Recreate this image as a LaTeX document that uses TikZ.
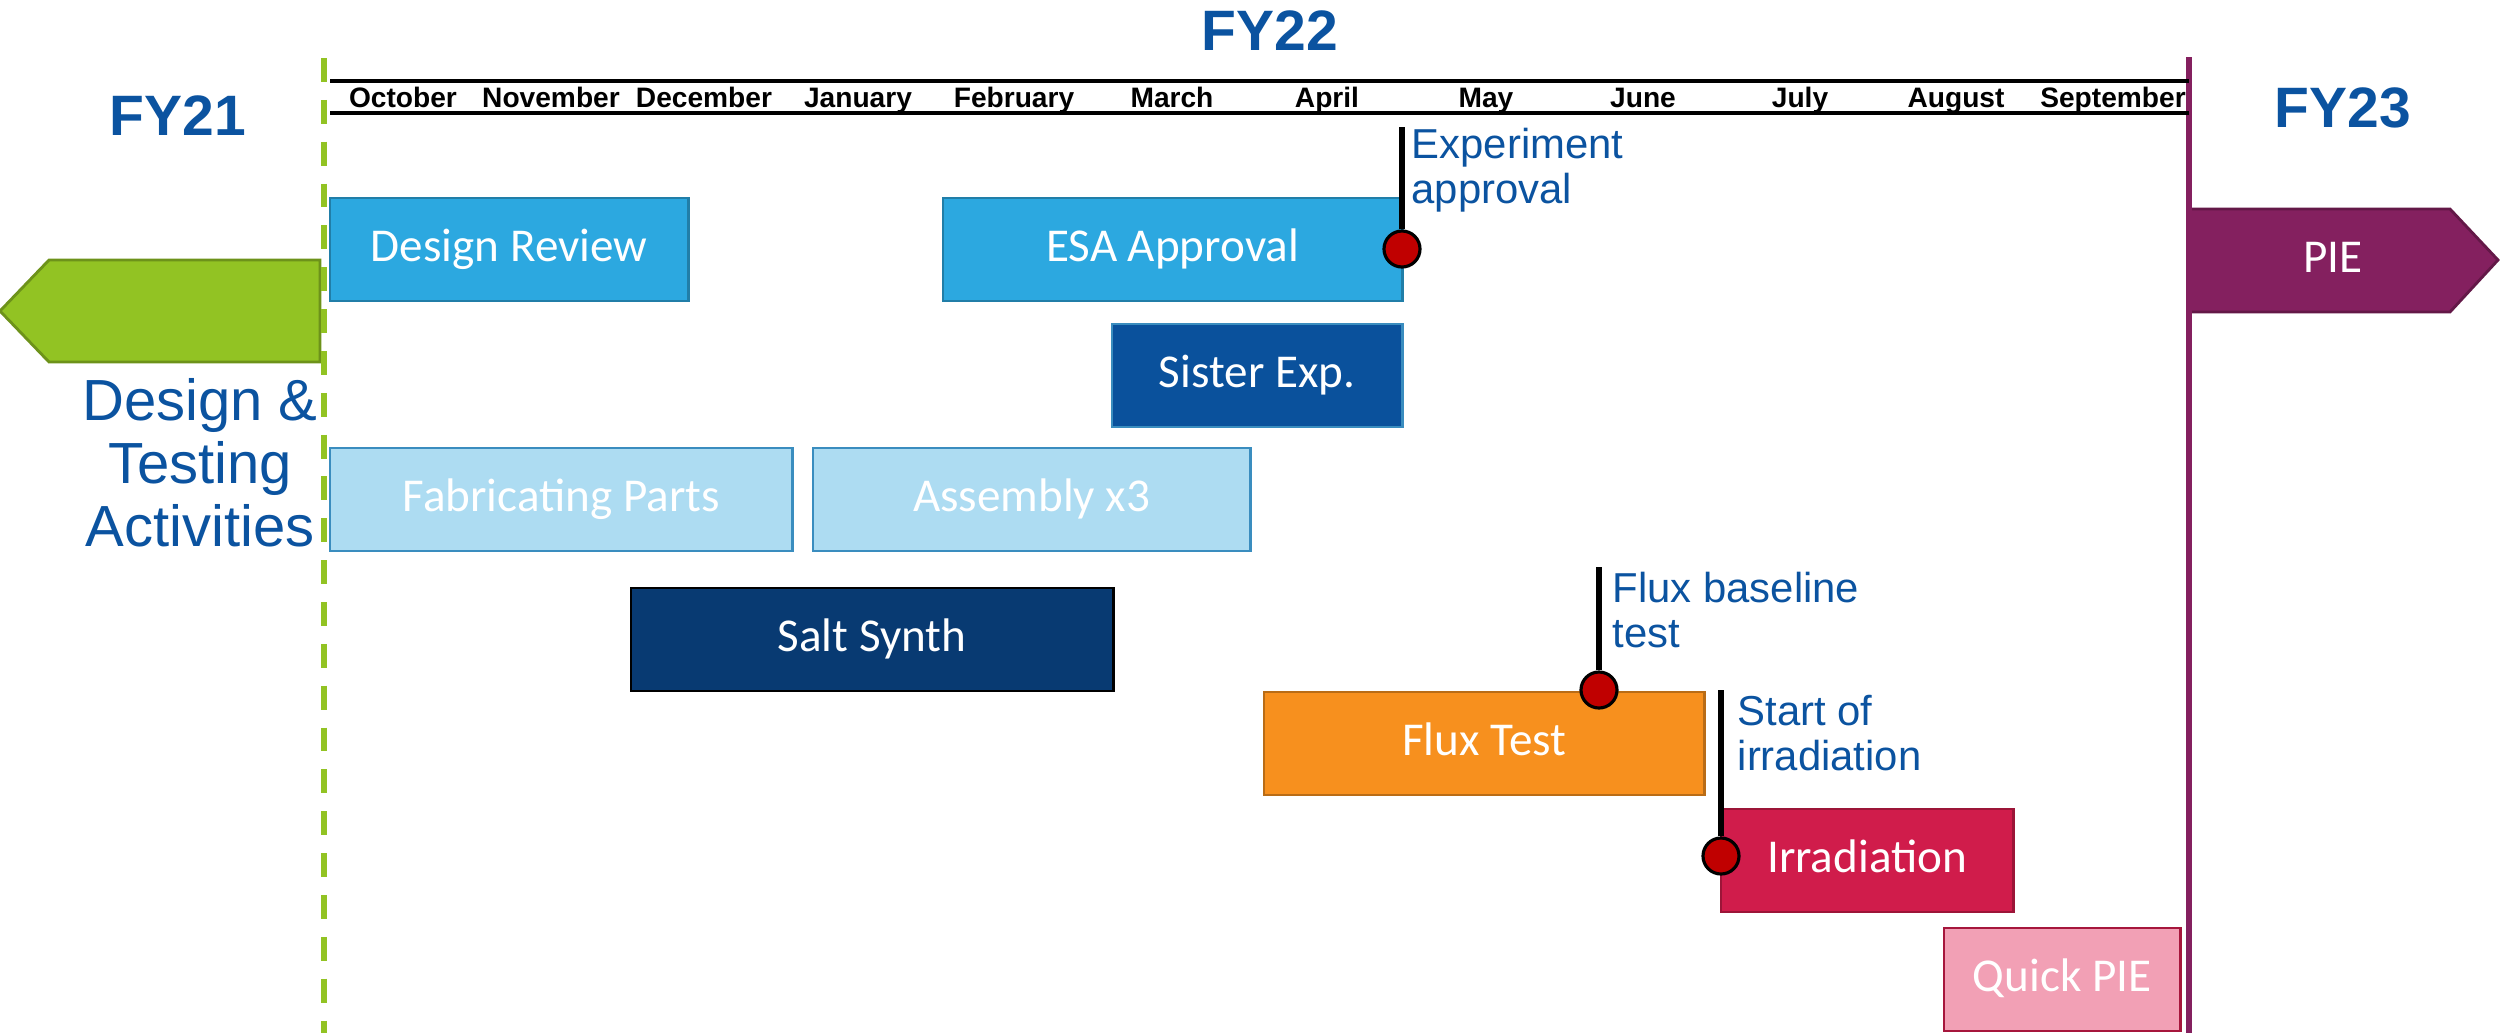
\documentclass[tikz,border=0pt]{standalone}
\usepackage{fontspec}
\setmainfont{Carlito}
\newfontfamily\arialfont{Liberation Sans}
\usetikzlibrary{positioning}
\definecolor{skyblue}{HTML}{2CA8E0}
\definecolor{sisterblue}{HTML}{0A519C}
\definecolor{paleblue}{HTML}{ADDCF2}
\definecolor{palerim}{HTML}{3A8DBF}
\definecolor{saltblue}{HTML}{083A72}
\definecolor{fluxorange}{HTML}{F7901E}
\definecolor{irradred}{HTML}{D01C4B}
\definecolor{quickpink}{HTML}{F2A0B5}
\definecolor{piepurple}{HTML}{84205F}
\definecolor{fygreen}{HTML}{92C323}
\definecolor{labelblue}{HTML}{0B53A0}
\definecolor{milered}{HTML}{C00000}
\tikzset{
  task/.style={fill=#1, draw=#1!75!black, line width=0.8pt, text=white, anchor=north west,
               font=\fontsize{13.4}{16}\selectfont, inner sep=0pt, outer sep=0pt, minimum height=1.03cm,
               text height=0.9em, text depth=0.2em},
  month/.style={font=\arialfont\bfseries\fontsize{8}{9.6}\selectfont, anchor=base, inner sep=0pt},
  fylabel/.style={font=\arialfont\bfseries\fontsize{16.2}{19}\selectfont, text=labelblue, inner sep=0pt},
  note/.style={font=\arialfont\fontsize{11.9}{12.8}\selectfont, text=labelblue, align=left,
               anchor=north west, inner sep=0pt},
  stem/.style={line width=1.6pt, draw=black},
  dot/.style={circle, fill=milered, draw=black, line width=0.9pt, minimum size=0.36cm, inner sep=0pt},
  rule/.style={line width=0.9pt, draw=black},
  fyline/.style={line width=1.8pt, draw=#1},
}

\begin{document}
\begin{tikzpicture}[x=0.01cm, y=-0.01cm]
  \useasboundingbox (0,0) rectangle (2509,1033);
  % previous / next fiscal year arrows
  \filldraw[fill=fygreen, draw=fygreen!75!black, line width=0.8pt]
    (320,260) -- (49,260) -- (0,311) -- (49,362) -- (320,362) -- cycle;
  \filldraw[fill=piepurple, draw=piepurple!75!black, line width=0.8pt]
    (2189,209) -- (2450,209) -- (2498,260) -- (2450,312) -- (2189,312) -- cycle;
  \node[text=white, font=\fontsize{13.4}{16}\selectfont, text height=0.9em, text depth=0.2em]
    (pie) at (2333,260) {PIE};
  % fiscal year boundaries
  \coordinate (fy22start) at (324,58);
  \coordinate (fy22startbot) at (324,1033);
  \coordinate (fy22end) at (2189,57);
  \coordinate (fy22endbot) at (2189,1033);
  \draw[fyline=fygreen, dash pattern=on 6.8pt off 5.1pt] (fy22start) -- (fy22startbot);
  \draw[fyline=piepurple] (fy22end) -- (fy22endbot);
  \node[fylabel] (fy21) at (178,116) {FY21};
  \node[fylabel] (fy22) at (1270,31) {FY22};
  \node[fylabel] (fy23) at (2343,108) {FY23};
  \node[font=\arialfont\fontsize{16.5}{17.9}\selectfont, text=labelblue, align=center, inner sep=0pt]
    (scope) at (200,463) {Design \&\\Testing\\Activities};
  % month header
  \coordinate (hdrtl) at (330,81);
  \coordinate (hdrtr) at (2189,81);
  \coordinate (hdrbl) at (330,113);
  \coordinate (hdrbr) at (2189,113);
  \draw[rule] (hdrtl) -- (hdrtr);
  \draw[rule] (hdrbl) -- (hdrbr);
  \node[month] (oct) at (403,107) {October};
  \node[month] (nov) at (551,107) {November};
  \node[month] (dec) at (704,107) {December};
  \node[month] (jan) at (858,107) {January};
  \node[month] (feb) at (1014,107) {February};
  \node[month] (mar) at (1172,107) {March};
  \node[month] (apr) at (1327,107) {April};
  \node[month] (may) at (1486,107) {May};
  \node[month] (jun) at (1643,107) {June};
  \node[month] (jul) at (1800,107) {July};
  \node[month] (aug) at (1956,107) {August};
  \node[month] (sep) at (2113,107) {September};
  % activities
  \node[task=skyblue, minimum width=3.58cm] (review) at (330,198) {Design Review};
  \node[task=skyblue, minimum width=4.59cm] (esa) at (943,198) {ESA Approval};
  \node[task=sisterblue, draw=palerim, minimum width=2.90cm] (sister) at (1112,324) {Sister Exp.};
  \node[task=paleblue, draw=palerim, minimum width=4.62cm] (fab) at (330,448) {Fabricating Parts};
  \node[task=paleblue, draw=palerim, minimum width=4.37cm] (assembly) at (813,448) {Assembly x3};
  \node[task=saltblue, draw=black, minimum width=4.82cm] (salt) at (631,588) {Salt Synth};
  \node[task=fluxorange, minimum width=4.40cm] (flux) at (1264,692) {Flux Test};
  \node[task=irradred, minimum width=2.92cm] (irrad) at (1721,809) {Irradiation};
  \node[task=quickpink, draw=irradred!80!black, minimum width=2.36cm] (quick) at (1944,928) {Quick PIE};
  % milestones
  \coordinate (exptop) at (1402,127);
  \node[dot] (exp) at (1402,249) {};
  \draw[stem] (exptop) -- (exp.north);
  \node[note] (expnote) at (1411,127) {Experiment\\approval};
  \coordinate (basetop) at (1599,567);
  \node[dot] (base) at (1599,690) {};
  \draw[stem] (basetop) -- (base.north);
  \node[note] (basenote) at (1612,571) {Flux baseline\\test};
  \coordinate (starttop) at (1721,690);
  \node[dot] (start) at (1721,856) {};
  \draw[stem] (starttop) -- (start.north);
  \node[note] (startnote) at (1737,694) {Start of\\irradiation};
\end{tikzpicture}
\end{document}
